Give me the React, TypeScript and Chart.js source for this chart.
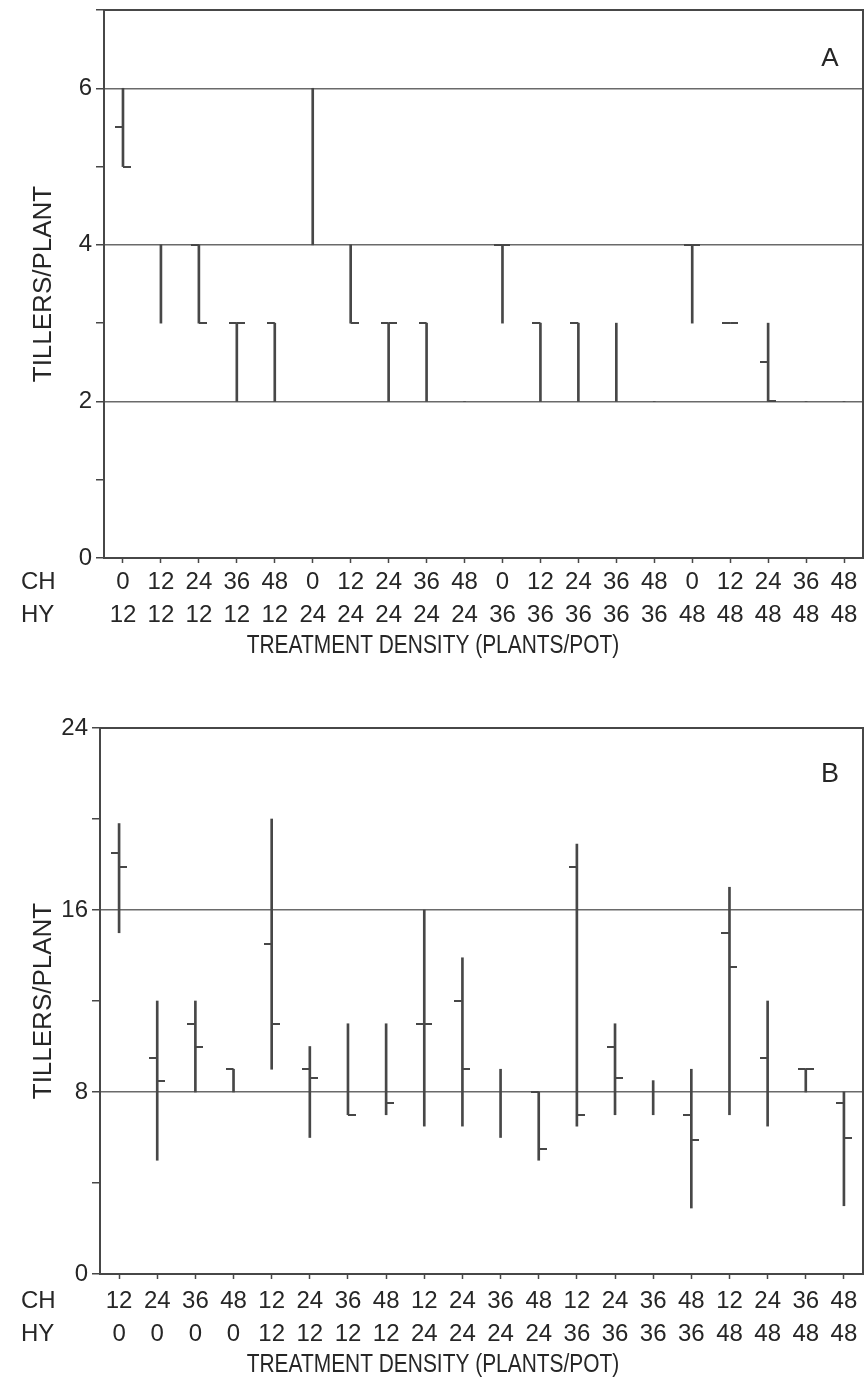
import React, { useEffect, useRef } from 'react';
import { Chart, registerables } from 'chart.js';

Chart.register(...registerables);

// ---------- Panel A ----------
const chA = ['0', '12', '24', '36', '48', '0', '12', '24', '36', '48', '0', '12', '24', '36', '48', '0', '12', '24', '36', '48'];
const hyA = ['12', '12', '12', '12', '12', '24', '24', '24', '24', '24', '36', '36', '36', '36', '36', '48', '48', '48', '48', '48'];
const highA = [6, 4, 4, 3, 3, 6, 4, 3, 3, 2, 4, 3, 3, 3, 2, 4, 3, 3, 2, 2];
const lowA = [5, 3, 3, 2, 2, 4, 3, 2, 2, 2, 3, 2, 2, 2, 2, 3, 3, 2, 2, 2];
const leftA = [5.5, null, 4, 3, 3, null, null, 3, 3, null, 4, 3, 3, null, null, 4, 3, 2.5, null, null];
const rightA = [5, null, 3, 3, null, null, 3, 3, null, null, 4, null, null, null, null, 4, 3, 2, null, null];
const yLabelsA = [0, 2, 4, 6];

// ---------- Panel B ----------
const chB = ['12', '24', '36', '48', '12', '24', '36', '48', '12', '24', '36', '48', '12', '24', '36', '48', '12', '24', '36', '48'];
const hyB = ['0', '0', '0', '0', '12', '12', '12', '12', '24', '24', '24', '24', '36', '36', '36', '36', '48', '48', '48', '48'];
const highB = [19.8, 12, 12, 9, 20, 10, 11, 11, 16, 13.9, 9, 8, 18.9, 11, 8.5, 9, 17, 12, 9, 8];
const lowB = [15, 5, 8, 8, 9, 6, 7, 7, 6.5, 6.5, 6, 5, 6.5, 7, 7, 2.9, 7, 6.5, 8, 3];
const leftB = [18.5, 9.5, 11, 9, 14.5, 9, null, null, 11, 12, null, 8, 17.9, 10, null, 7, 15, 9.5, 9, 7.5];
const rightB = [17.9, 8.5, 10, null, 11, 8.6, 7, 7.5, 11, 9, null, 5.5, 7, 8.6, null, 5.9, 13.5, null, 9, 6];
const yLabelsB = [0, 8, 16, 24];

const X_TITLE = 'TREATMENT DENSITY (PLANTS/POT)';
const Y_TITLE = 'TILLERS/PLANT';

const LINE = '#474747';
const GRID = '#6a6a6a';
const TEXT = '#262626';
const FAMILY = "'Liberation Sans', Arial, Helvetica, sans-serif";

function makeTick(side: 'left' | 'right', len: number, thick: number): HTMLCanvasElement {
  const c = document.createElement('canvas');
  c.width = 2 * len + 2;
  c.height = thick;
  const g = c.getContext('2d')!;
  g.fillStyle = LINE;
  if (side === 'left') g.fillRect(0, 0, len + 1, thick);
  else g.fillRect(len + 1, 0, len + 1, thick);
  return c;
}

function buildConfig(o: any) {
  const leftImg = makeTick('left', 7, 2);
  const rightImg = makeTick('right', 7, 2);
  const labels = o.ch.map((c: string, i: number) => [c, o.hy[i]]);
  const annot = {
    id: 'annot' + o.letter,
    afterDraw(chart: any) {
      const { ctx, chartArea } = chart;
      ctx.save();
      ctx.fillStyle = TEXT;
      ctx.font = `${o.letterSize}px ${FAMILY}`;
      ctx.textAlign = 'center';
      ctx.textBaseline = 'middle';
      ctx.fillText(o.letter, chartArea.right - 33, chartArea.top + o.letterDy);
      ctx.font = `24px ${FAMILY}`;
      ctx.textAlign = 'left';
      const y0 = chartArea.bottom + o.rowDy;
      ctx.fillText('CH', 21, y0);
      ctx.fillText('HY', 21, y0 + 33);
      // condensed axis title
      ctx.translate(433, chartArea.bottom + o.titleDy);
      ctx.scale(0.82, 1);
      ctx.textAlign = 'center';
      ctx.font = `25.5px ${FAMILY}`;
      ctx.fillText(X_TITLE, 0, 0);
      ctx.restore();
    },
  };
  return {
    type: 'bar',
    data: {
      labels,
      datasets: [
        {
          type: 'bar',
          data: o.low.map((l: number, i: number) => [l, o.high[i]]),
          backgroundColor: LINE,
          borderWidth: 0,
          barThickness: 2,
          order: 2,
        },
        {
          type: 'line',
          data: o.left,
          showLine: false,
          pointStyle: leftImg,
          pointRadius: 4,
          order: 1,
        },
        {
          type: 'line',
          data: o.right,
          showLine: false,
          pointStyle: rightImg,
          pointRadius: 4,
          order: 1,
        },
      ],
    },
    options: {
      responsive: false,
      animation: false,
      devicePixelRatio: 1,
      events: [],
      layout: { padding: { top: o.padTop, right: o.padRight, left: 0, bottom: 0 } },
      plugins: { legend: { display: false }, tooltip: { enabled: false } },
      scales: {
        x: {
          type: 'category',
          offset: true,
          position: 'bottom',
          grid: { drawOnChartArea: false, drawTicks: true, tickLength: 5, offset: false, color: LINE, tickColor: LINE, tickWidth: 1.5 },
          border: { display: true, color: LINE, width: 2 },
          ticks: { color: TEXT, font: { family: FAMILY, size: 24, lineHeight: 1.375 }, padding: o.xTickPad, maxRotation: 0, minRotation: 0, autoSkip: false },
          title: { display: false },
          afterFit: (s: any) => { s.height = o.xHeight; s.paddingLeft = 0; s.paddingRight = 0; },
        },
        y: {
          type: 'linear',
          position: 'left',
          min: 0,
          max: o.max,
          ticks: {
            stepSize: o.step,
            autoSkip: false,
            color: TEXT,
            font: { family: FAMILY, size: 24 },
            padding: 4,
            callback: (v: number) => (o.yLabels.includes(v) ? String(v) : ''),
          },
          grid: {
            drawTicks: true,
            tickLength: 8,
            lineWidth: 1.5,
            tickColor: LINE,
            tickWidth: 1.5,
            color: (ctx: any) => {
              const v = ctx.tick ? ctx.tick.value : -1;
              return o.yLabels.includes(v) && v > 0 && v < o.max ? GRID : 'rgba(0,0,0,0)';
            },
          },
          border: { display: true, color: LINE, width: 2 },
          title: {
            display: true,
            text: Y_TITLE,
            color: TEXT,
            font: { family: FAMILY, size: 26, lineHeight: 1.2 },
            padding: { top: 28, bottom: 0 },
          },
          afterFit: (s: any) => { s.width = o.yWidth; s.paddingTop = 0; s.paddingBottom = 0; },
        },
        xTop: {
          type: 'linear',
          position: 'top',
          min: 0,
          max: 1,
          grid: { display: false, drawTicks: false },
          ticks: { display: false },
          border: { display: true, color: LINE, width: 2 },
          afterFit: (s: any) => { s.height = 0; s.paddingLeft = 0; s.paddingRight = 0; },
        },
        yRight: {
          type: 'linear',
          position: 'right',
          min: 0,
          max: 1,
          grid: { display: false, drawTicks: false },
          ticks: { display: false },
          border: { display: true, color: LINE, width: 2 },
          afterFit: (s: any) => { s.width = 0; s.paddingTop = 0; s.paddingBottom = 0; },
        },
      },
    },
    plugins: [annot],
  };
}

export default function App() {
  const refA = useRef<HTMLCanvasElement>(null);
  const refB = useRef<HTMLCanvasElement>(null);

  useEffect(() => {
    const a = new Chart(
      refA.current!,
      buildConfig({
        ch: chA, hy: hyA, high: highA, low: lowA, left: leftA, right: rightA,
        yLabels: yLabelsA, max: 7, step: 1,
        padTop: 10, padRight: 2, yWidth: 104, xHeight: 112, xTickPad: 3,
        rowDy: 24, titleDy: 88,
        letter: 'A', letterSize: 26, letterDy: 49,
      }) as any
    );
    const b = new Chart(
      refB.current!,
      buildConfig({
        ch: chB, hy: hyB, high: highB, low: lowB, left: leftB, right: rightB,
        yLabels: yLabelsB, max: 24, step: 4,
        padTop: 48, padRight: 1, yWidth: 100, xHeight: 105, xTickPad: 6,
        rowDy: 27, titleDy: 91,
        letter: 'B', letterSize: 27, letterDy: 47,
      }) as any
    );
    return () => {
      a.destroy();
      b.destroy();
    };
  }, []);

  return (
    <div style={{ position: 'absolute', left: 0, top: 0, width: 868, height: 1379, background: '#ffffff' }}>
      <canvas ref={refA} width={868} height={670} style={{ position: 'absolute', left: 0, top: 0, width: 868, height: 670 }} />
      <canvas ref={refB} width={868} height={699} style={{ position: 'absolute', left: 0, top: 680, width: 868, height: 699 }} />
    </div>
  );
}
